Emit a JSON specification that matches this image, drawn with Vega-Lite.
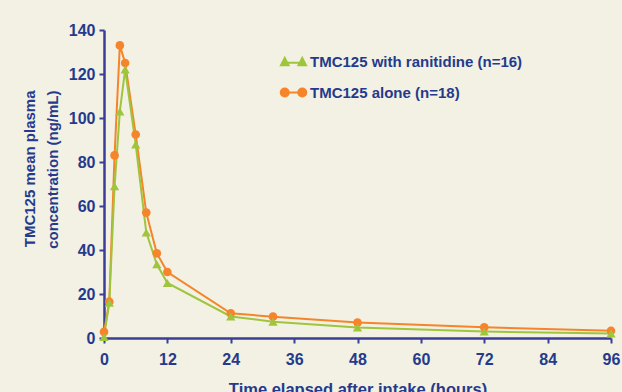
{
  "$schema": "https://vega.github.io/schema/vega-lite/v6.json",
  "width": 507,
  "height": 308,
  "autosize": {"type": "none"},
  "padding": {"left": 104, "top": 30, "right": 11, "bottom": 54},
  "background": "#f2f1e4",
  "config": {
    "view": {"stroke": null},
    "font": "Liberation Sans",
    "axis": {
      "grid": false,
      "domainColor": "#3a3e98",
      "domainWidth": 2.5,
      "tickColor": "#3a3e98",
      "tickWidth": 2,
      "tickSize": 5,
      "labelFlush": false,
      "labelFont": "Liberation Sans",
      "labelFontWeight": "bold",
      "labelFontSize": 16,
      "labelColor": "#253a8c",
      "titleFont": "Liberation Sans",
      "titleFontWeight": "bold",
      "titleColor": "#253a8c"
    }
  },
  "data": {
    "values": [
      {"t": 0, "c": 2.8, "g": "TMC125 alone (n=18)"},
      {"t": 1, "c": 16.5, "g": "TMC125 alone (n=18)"},
      {"t": 2, "c": 83, "g": "TMC125 alone (n=18)"},
      {"t": 3, "c": 133, "g": "TMC125 alone (n=18)"},
      {"t": 4, "c": 125, "g": "TMC125 alone (n=18)"},
      {"t": 6, "c": 92.5, "g": "TMC125 alone (n=18)"},
      {"t": 8, "c": 57, "g": "TMC125 alone (n=18)"},
      {"t": 10, "c": 38.5, "g": "TMC125 alone (n=18)"},
      {"t": 12, "c": 30, "g": "TMC125 alone (n=18)"},
      {"t": 24, "c": 11.2, "g": "TMC125 alone (n=18)"},
      {"t": 32, "c": 9.7, "g": "TMC125 alone (n=18)"},
      {"t": 48, "c": 7.0, "g": "TMC125 alone (n=18)"},
      {"t": 72, "c": 4.9, "g": "TMC125 alone (n=18)"},
      {"t": 96, "c": 3.3, "g": "TMC125 alone (n=18)"},
      {"t": 0, "c": 0.5, "g": "TMC125 with ranitidine (n=16)"},
      {"t": 1, "c": 16, "g": "TMC125 with ranitidine (n=16)"},
      {"t": 2, "c": 69, "g": "TMC125 with ranitidine (n=16)"},
      {"t": 3, "c": 103, "g": "TMC125 with ranitidine (n=16)"},
      {"t": 4, "c": 122, "g": "TMC125 with ranitidine (n=16)"},
      {"t": 6, "c": 88, "g": "TMC125 with ranitidine (n=16)"},
      {"t": 8, "c": 48, "g": "TMC125 with ranitidine (n=16)"},
      {"t": 10, "c": 33.5, "g": "TMC125 with ranitidine (n=16)"},
      {"t": 12, "c": 25, "g": "TMC125 with ranitidine (n=16)"},
      {"t": 24, "c": 9.8, "g": "TMC125 with ranitidine (n=16)"},
      {"t": 32, "c": 7.4, "g": "TMC125 with ranitidine (n=16)"},
      {"t": 48, "c": 4.8, "g": "TMC125 with ranitidine (n=16)"},
      {"t": 72, "c": 2.9, "g": "TMC125 with ranitidine (n=16)"},
      {"t": 96, "c": 2.0, "g": "TMC125 with ranitidine (n=16)"}
    ]
  },
  "encoding": {
    "x": {
      "field": "t",
      "type": "quantitative",
      "scale": {"domain": [0, 96], "nice": false, "zero": false},
      "axis": {
        "values": [0, 12, 24, 36, 48, 60, 72, 84, 96],
        "title": "Time elapsed after intake (hours)",
        "titleFontSize": 16.5,
        "titleBaseline": "alphabetic",
        "titleY": 56,
        "labelPadding": 8,
        "labelBaseline": "top"
      }
    },
    "y": {
      "field": "c",
      "type": "quantitative",
      "scale": {"domain": [0, 140], "nice": false},
      "axis": {
        "values": [0, 20, 40, 60, 80, 100, 120, 140],
        "title": ["TMC125 mean plasma", "concentration (ng/mL)"],
        "titleFontSize": 15,
        "titleAngle": -90,
        "titleAlign": "right",
        "titleBaseline": "top",
        "titleLineHeight": 23,
        "titleX": -82,
        "titleY": 60,
        "labelPadding": 4
      }
    },
    "color": {
      "field": "g",
      "type": "nominal",
      "scale": {
        "domain": ["TMC125 with ranitidine (n=16)", "TMC125 alone (n=18)"],
        "range": ["#9fc53c", "#f5842b"]
      }
    }
  },
  "layer": [
    {
      "mark": {"type": "line", "strokeWidth": 2},
      "encoding": {
        "color": {
          "field": "g",
          "type": "nominal",
          "legend": {
            "orient": "none",
            "legendX": 176,
            "legendY": 18,
            "title": null,
            "symbolSize": 625,
            "symbolStrokeWidth": 2,
            "rowPadding": 9,
            "labelOffset": 3,
            "labelFont": "Liberation Sans",
            "labelFontWeight": "bold",
            "labelFontSize": 15,
            "labelColor": "#253a8c",
            "labelLimit": 400,
            "encode": {
              "symbols": {
                "update": {
                  "shape": {"signal": "datum.value === 'TMC125 alone (n=18)' ? 'M-0.7,0L0.7,0M-1.02,0A0.32,0.32 0 1,0 -0.38,0A0.32,0.32 0 1,0 -1.02,0ZM0.38,0A0.32,0.32 0 1,0 1.02,0A0.32,0.32 0 1,0 0.38,0Z' : 'M-0.7,0.1L0.7,0.1M-1.0,0.3L-0.7,-0.28L-0.4,0.3ZM0.4,0.3L0.7,-0.28L1.0,0.3Z'"},
                  "fill": {"scale": "color", "field": "value"},
                  "stroke": {"scale": "color", "field": "value"},
                  "strokeWidth": {"value": 2},
                  "opacity": {"value": 1},
                  "fillOpacity": {"value": 1}
                }
              }
            }
          }
        }
      }
    },
    {
      "transform": [{"filter": "datum.g === 'TMC125 alone (n=18)'"}],
      "mark": {"type": "point", "shape": "circle", "filled": true, "opacity": 1, "size": 75},
      "encoding": {
        "color": {"field": "g", "type": "nominal", "legend": null}
      }
    },
    {
      "transform": [{"filter": "datum.g === 'TMC125 with ranitidine (n=16)'"}],
      "mark": {"type": "point", "shape": "triangle-up", "filled": true, "opacity": 1, "size": 85},
      "encoding": {
        "color": {"field": "g", "type": "nominal", "legend": null}
      }
    }
  ]
}
